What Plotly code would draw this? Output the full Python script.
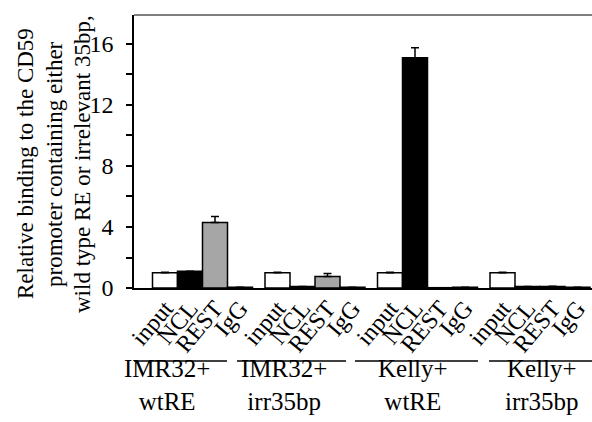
import plotly.graph_objects as go

groups = ["IMR32+<br>wtRE", "IMR32+<br>irr35bp", "Kelly+<br>wtRE", "Kelly+<br>irr35bp"]
antibodies = ["input", "NCL", "REST", "IgG"]
values = {
    "input": [1.0, 1.0, 1.0, 1.0],
    "NCL":   [1.1, 0.1, 15.1, 0.1],
    "REST":  [4.3, 0.75, 0.02, 0.1],
    "IgG":   [0.05, 0.05, 0.05, 0.05],
}
errors = {
    "input": [0.03, 0.03, 0.03, 0.03],
    "NCL":   [0.0, 0.0, 0.65, 0.0],
    "REST":  [0.38, 0.2, 0.0, 0.02],
    "IgG":   [0.0, 0.0, 0.0, 0.0],
}
fills = {"input": "white", "NCL": "black", "REST": "#a6a6a6", "IgG": "white"}
y_ticks = [0, 2, 4, 6, 8, 10, 12, 14, 16]

# layout helpers (data-unit positions along the x axis)
GROUP_STEP = 4.5
underline_span = [(-2.24, 2.48), (2.88, 7.24), (7.6, 12.52), (12.96, 17.3)]
label_x = [0.08, 4.76, 9.92, 15.07]

FONT = "'Liberation Serif', 'Times New Roman', Times, serif"
fig = go.Figure()
tickvals, ticktext = [], []
for i, ab in enumerate(antibodies):
    xs = [g * GROUP_STEP + i for g in range(len(groups))]
    tickvals += xs
    ticktext += [ab] * len(groups)
    fig.add_trace(go.Bar(
        x=xs, y=values[ab], width=1.0, name=ab,
        marker=dict(color=fills[ab], line=dict(color="black", width=1.5)),
        error_y=dict(type="data", array=errors[ab], arrayminus=[0] * len(groups),
                     symmetric=False, color="black", thickness=1.5, width=4),
        showlegend=False, hoverinfo="skip",
    ))

fig.update_layout(
    width=592, height=422,
    margin=dict(l=134, r=0, t=15, b=134, autoexpand=False),
    plot_bgcolor="white", paper_bgcolor="white",
    barmode="overlay",
    font=dict(family=FONT, color="black", size=22),
    xaxis=dict(range=[-1.24, 17.08], tickvals=tickvals, ticktext=ticktext,
               tickangle=-50, showline=True, linecolor="black", linewidth=1.5,
               showgrid=False, zeroline=False, ticks="", automargin=False,
               ticklabelstandoff=-5, ticklabeloverflow="allow",
               tickfont=dict(family=FONT, size=24, color="black")),
    yaxis=dict(range=[0, 17.9], tickvals=y_ticks,
               ticktext=[str(v) if v % 4 == 0 else "" for v in y_ticks],
               ticks="outside", ticklen=6, tickwidth=1.5, tickcolor="black",
               showline=True, linecolor="black", linewidth=1.5, automargin=False,
               showgrid=False, zeroline=False, ticklabelstandoff=8,
               tickfont=dict(family=FONT, size=24, color="black")),
)

# top border line
fig.add_shape(type="line", xref="paper", yref="paper", x0=0, x1=1, y0=1, y1=1,
              line=dict(color="#555555", width=1.5))

# group underlines and labels
for g, name in enumerate(groups):
    a, b = underline_span[g]
    fig.add_shape(type="line", xref="x", yref="paper", x0=a, x1=b,
                  y0=-0.267, y1=-0.267, line=dict(color="black", width=1.5))
    fig.add_annotation(x=label_x[g], y=-0.356, xref="x", yref="paper",
                       text=name, showarrow=False, xanchor="center", yanchor="middle",
                       font=dict(family=FONT, size=25, color="black"))

# y-axis title, three lines
title_lines = ["Relative binding to the CD59", "promoter containing either",
               "wild type RE or irrelevant 35bp,"]
title_x_px = [25, 54, 82]
for line, px in zip(title_lines, title_x_px):
    fig.add_annotation(x=(px - 134) / 458, y=(288 - 164) / 273, xref="paper", yref="paper",
                       text=line, showarrow=False, textangle=-90,
                       xanchor="center", yanchor="middle",
                       font=dict(family=FONT, size=23, color="black"))

fig.write_html("out.html", config={"displayModeBar": False},
               post_script="document.body.style.margin='0';document.body.style.overflow='hidden';")
